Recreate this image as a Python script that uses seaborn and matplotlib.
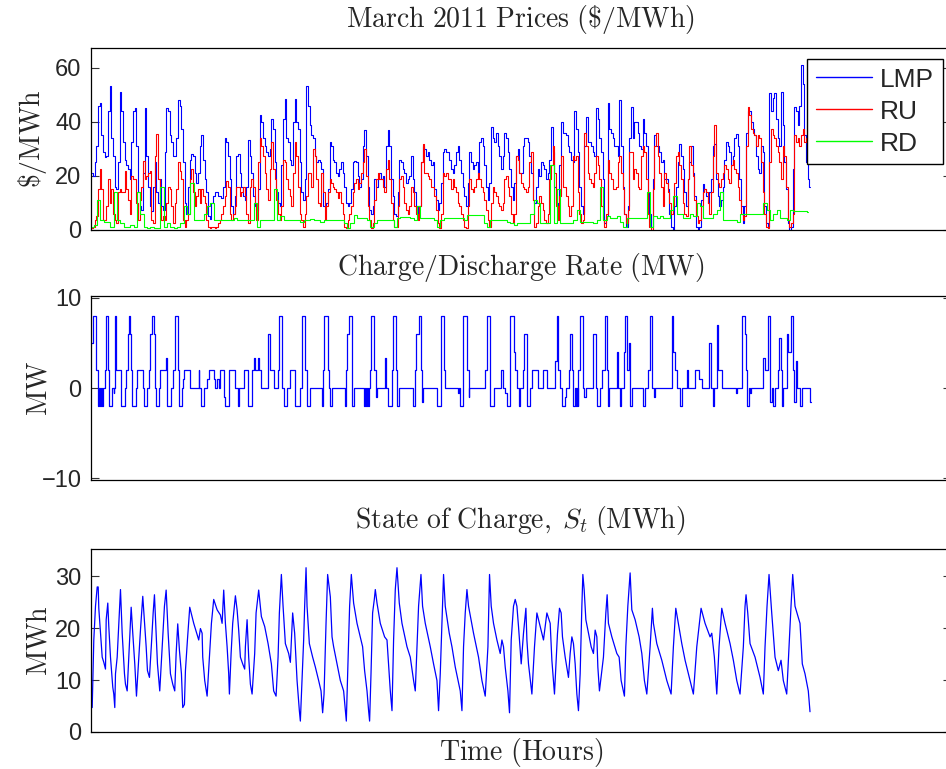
import numpy as np
import matplotlib
matplotlib.use('Agg')
import matplotlib.pyplot as plt
import seaborn as sns

# ---------------- data (hours) ----------------
lmp = [
    21, 20, 25, 31, 46, 47, 35, 29, 27, 27.5,
    44, 53.5, 34, 27.5, 16, 15, 25, 51, 44, 32.5,
    26, 24, 22.5, 19, 32.5, 44, 45, 31, 14, 9,
    7.5, 21, 45, 27.5, 16, 9, 7, 16, 25, 14,
    10, 19, 9, 7.5, 29, 45, 44, 35, 32.5, 27.5,
    27.5, 34, 48, 46, 37.5, 25, 10, 6, 16, 26,
    28, 27.5, 21, 17.5, 21, 31, 35, 26, 19, 14,
    5, 4, 10, 12.5, 14, 14, 12.5, 12.5, 12, 16,
    34, 32.5, 27.5, 19, 9, 6, 12.5, 27.5, 28, 21,
    16, 12.5, 11, 16, 33.5, 27.5, 21, 12.5, 9, 7.5,
    15, 42.5, 40, 34, 31, 29, 27.5, 30, 41, 37.5,
    25, 14, 10, 9, 24, 41, 48.5, 34, 32.5, 26,
    24, 40, 48.5, 40, 37.5, 25, 14, 11, 19, 53.5,
    46, 39, 35, 34, 27.5, 25, 26, 25, 22.5, 9,
    9, 10, 15, 32.5, 31, 26, 25, 21, 20, 22.5,
    25, 21, 16, 10, 9, 10, 15, 25, 25.6, 25,
    20, 16, 19, 31, 37, 27.5, 16, 7.5, 6, 9,
    19, 16, 19, 21, 19, 20, 16, 31, 37, 31,
    19, 12.5, 6, 5, 14, 26, 25, 22.5, 21, 17.5,
    19, 20, 27.5, 19, 14, 9, 6, 9, 25, 31,
    30, 27.5, 29, 26, 24, 25, 15, 11, 7.5, 10,
    17.5, 29, 30, 29, 29, 26, 22.5, 21, 24, 29,
    31, 26, 21, 16, 12.5, 9, 17.5, 29, 25, 22.5,
    24, 25, 21, 32.5, 34, 31, 24, 16, 11, 17.5,
    38, 34, 32.5, 36, 31, 27.5, 22.5, 27.5, 36, 34,
    29, 22.5, 16, 11, 17.5, 27.5, 30, 21, 21, 31,
    34, 34, 32.5, 27.5, 21, 11, 10, 16, 22.5, 20,
    25, 24, 22.5, 19, 21, 26, 38, 29, 16, 10,
    6, 24, 40, 36,
    36, 35, 31, 29, 26, 25, 44, 37.5, 29, 16,
    9, 6, 31, 42, 32.5, 32.5, 31, 29, 27.5, 45,
    41, 34, 29, 19, 2.5, 5, 47, 37.5, 36, 34,
    31, 31, 27.5, 48, 31, 16, 6, 1, 9, 34,
    45.6, 34, 40, 40, 36, 31, 30, 41, 36, 31,
    14, 6, 1, 19, 35, 31, 31, 29, 25, 26,
    19, 19, 15, 6, 1, 0, 9, 16, 25, 32,
    27.5, 22.5, 14, 9, 19, 25, 31, 21, 12.5, 1,
    0, 1, 11, 17, 15, 12.5, 10, 14, 19, 31,
    32, 19, 12.5, 9, 11, 16, 26, 32.5, 31, 29,
    24, 27.5, 34, 35.6, 31, 19, 9, 2.5, 9, 36,
    44, 44, 40, 37.5, 35, 27.5, 22.5, 21, 31, 29,
    9, 2.5, 1, 50.6, 44, 49, 50.6, 41, 34, 31,
    51, 39, 25, 15, 2.5, 0, 1, 22.5, 45.6, 44,
    39, 46, 61, 54, 35, 25, 19, 16,
]
ru = [
    0.6, 1.2, 3.8, 5, 15, 22.5, 15, 3.8, 3.8, 8.8,
    19, 10, 15, 6, 3.8, 2.5, 14, 15, 14, 14,
    22, 15, 11, 6, 20, 19, 19, 10, 3.8, 11,
    16, 25.6, 19, 20, 21, 22, 3.8, 2.5, 27.5, 35.6,
    19, 9, 3.8, 5, 3.8, 10, 16, 15, 9, 2.5,
    10, 15, 25, 22, 19, 3.8, 1.2, 3.8, 6, 19,
    22.5, 14, 9, 12.5, 15, 10, 15, 12.5, 10, 3.8,
    1.2, 0.6, 1.2, 1.2, 0.6, 1.2, 2.5, 3.8, 6, 9,
    12.5, 18, 16, 6, 3.8, 6, 9, 16, 16, 12.5,
    14, 16, 12.5, 6, 2.5, 16, 19, 16, 10, 3.8,
    25, 34, 31, 27.5, 21, 15, 11, 22.5, 32.5, 22.5,
    19, 11, 6, 3.8, 9, 26, 25, 19, 15, 12.5,
    9, 21, 32.5, 27.5, 16, 6, 3.8, 1.2, 6, 12.5,
    21, 21, 16, 30, 27.5, 19, 10, 9, 21, 14,
    3.8, 9, 14, 19, 17.5, 16, 15, 14, 12, 14,
    10, 6, 1.2, 0.6, 3.8, 6, 9, 14, 17.5, 19,
    15, 17.5, 21, 25, 30, 20, 9, 3.8, 0.6, 2.5,
    11, 19, 21, 19, 19, 16, 14, 22.5, 26, 19,
    10, 3.8, 1.2, 1.2, 9, 19, 20, 16, 10, 7.5,
    6, 9, 16, 14, 9, 6, 3.8, 9, 25, 32,
    21, 21, 20, 19, 16, 16, 12.5, 7.5, 2.5, 0.6,
    6, 21, 20, 21, 19, 19, 15, 19, 16, 14,
    10, 9, 6, 3.8, 1.2, 0.6, 9, 19, 15, 14,
    16, 19, 21, 19, 16, 14, 11, 7.5, 3.8, 1.2,
    10, 16, 14, 12.5, 10, 9, 7.5, 10, 19, 20,
    16, 12.5, 6, 2.5, 6, 27.5, 26, 21, 17.5, 16,
    15, 14, 16, 25, 29, 11, 1.2, 2.5, 9, 12.5,
    10, 7.5, 3.8, 2.5, 6, 19, 24, 31, 21, 9,
    3.8, 12.5, 27.5, 16,
    16, 12.5, 9, 5, 9, 27.5, 26, 27.5, 14, 6,
    2.5, 3.8, 36, 31, 21, 19, 17.5, 16, 21, 27.5,
    24, 19, 9, 3.8, 1.2, 6, 26, 21, 19, 15,
    15, 16, 25, 27.5, 21, 15, 6, 2.5, 7.5, 29,
    29, 19, 22.5, 21, 16, 15, 27.5, 31, 29, 19,
    6, 1.2, 0, 15, 31, 36, 27.5, 21, 16, 9,
    21, 17.5, 14, 10, 6, 9, 17.5, 27.5, 29, 24,
    19, 10, 6, 5, 19, 31, 24, 20, 11, 5,
    2.5, 3.8, 9, 14, 15, 14, 10, 6, 14, 27.5,
    39, 21, 17.5, 16, 19, 21, 24, 22.5, 19, 17.5,
    24, 26, 22.5, 21, 16, 11, 6, 3.8, 5, 31,
    45.6, 42.5, 37.5, 36, 35, 31, 35, 34, 25, 14,
    6, 1.2, 0.6, 25, 37.5, 35, 34, 31, 29, 25,
    19, 31, 27.5, 16, 3.8, 1.2, 2.5, 6, 35, 32.5,
    34, 31, 35, 37.5, 32.5, 34, 37.5, 37.5,
]
rd = [
    1.2, 1.9, 11, 3.8, 3.1, 3.1, 1.2, 14, 3.8, 2.5,
    1.2, 1.2, 1.9, 1.2, 14, 6, 1.2, 0.6, 1.2, 0.6,
    0.6, 16, 1.2, 2.5, 1.2, 0.6, 1.2, 2.5, 9, 6,
    17.5, 3.8, 3.8, 3.8, 6, 9, 10, 3.8, 3.8, 3.8,
    3.8, 3.8, 3.8, 4.4, 3.8, 3.8, 3.8, 3.8, 3.8, 10,
    1.2, 3.8, 3.8, 3.8, 3.8, 15, 3.8, 5, 3.8, 3.8,
    3.8, 3.8, 3.8, 3.1, 3.8, 3.8, 4, 3.8, 3.8, 3.1,
    3.8, 3.8, 3.8, 3.8, 3.8, 3.8, 2.5, 0.6, 2.5, 5.6,
    4.4, 4.4, 4.4, 3.8, 1.2, 2.5, 3.8, 3.8, 3.8, 3.8,
    3.8, 1.2, 4.4, 4.8, 4.8, 4.8, 4.4, 3.8, 9, 4.4,
    4.4, 4.4, 4.4, 3.8, 1.2, 3.8, 4.4, 4.4, 4.4, 4.4,
    4.4, 4.4, 3.8, 5.6, 5.6, 5.6, 5.6, 5.6, 2.5, 1.2,
    3.8, 3.8, 3.8, 3.8, 3.8, 3.1, 2.5, 1.9, 2.5, 2.5,
    2.5, 2.5, 6, 11, 10, 2.5, 2.5, 2.5, 24, 2.5,
    15, 2.5,
    2.5, 2.5, 2.5, 3.8, 7.5, 3.1, 3.1, 3.1, 3.1, 2.5,
    3.8, 16, 3.8, 5, 4.4, 4.4, 5, 3.1, 1.2, 4.4,
    4.4, 4.4, 4.4, 4.4, 4.4, 14, 1.2, 5, 4.4, 5,
    4.4, 4.4, 7.5, 12.5, 6, 6, 4.4, 4.4, 6, 5,
    10, 9, 4.4, 4.4, 4.4, 6, 7.5, 14, 3.8, 3.8,
    3.8, 3.8, 3.1, 6, 6, 6, 6, 6, 6, 6,
    10, 7.5, 3.8, 6, 7.5, 4.4, 4.4, 3.8, 7.5, 7,
    7, 7, 7, 6.5,
]

rate_t = [
    0, 2.3, 6, 7.7, 9, 9.7, 10.7, 11.3, 12.3, 15,
    15.7, 17.7, 18.3, 21.7, 23.3, 24, 24.3, 24.7, 26, 30.3,
    34.3, 35.7, 37.3, 38.3, 40, 41, 41.7, 45.7, 46.7, 52.3,
    53.3, 56.7, 58.3, 59.3, 61.7, 63.3, 65, 65.5, 69, 70,
    76, 76.7, 81, 82.7, 85, 87.3, 88.3, 91.7, 92.3, 94,
    100, 108.3, 109, 111, 113.3, 116.7, 118.3, 123.3, 124.3, 126.7,
    128.3, 130, 133.3, 134.3, 138.3, 145, 147.7, 149, 153.3, 157.7,
    161.7, 163.3, 165, 167.7, 168.3, 171, 177.7, 180, 183.3, 187.7,
    188.3, 189, 191.7, 193.3, 196.7, 200, 205, 210, 211.7, 215,
    216.7, 220, 231.7, 232.3, 233.3, 237.7, 238.3, 240, 241.7, 254.3,
    255.7, 257, 258.3, 261.7, 263.3, 273.3, 274.7, 275.3, 276.7, 277.3,
    278.3, 279.3, 281, 284, 285.7, 286.7, 295, 296, 297.7, 301.7,
    302.7, 306, 306.7, 309, 322.7, 324.3, 326, 328.3, 331, 331.7,
    332.7, 346.7, 351, 353.3, 354.3, 367.7, 368.3, 370, 372.7, 376.7,
    378.3, 379, 395, 396.7, 400, 403.3, 411, 412.3, 415, 416.7,
    420, 423.3, 425, 426.7, 428.3, 429.3, 433.3, 434, 436.7, 440,
    442.3, 448.3, 453.3, 456.7, 465, 466.7, 468.3, 470, 471.7, 475,
    475.7, 479, 480.3, 482.3, 483.3, 485, 485.7, 487, 487.5, 488.3,
    490, 493.3, 494.3, 495.7, 503.3, 505.7, 506.7, 510, 512.3, 515,
    516.7, 518.3, 519, 526.7, 528.3, 530, 531, 534.3, 535, 536.7,
    539, 540.3, 541.7, 553.3, 555, 557.7, 560, 562.3, 564.3, 565,
    581.7, 583.3, 585, 586.7, 590, 591.7, 596.7, 597.7, 605, 609.3,
    611.7, 619.3, 620.7, 622.7, 624.3, 627.3, 628.3, 631.7, 645.7, 646.7,
    651.7, 652.3, 655, 655.7, 656.7, 659, 660, 660.7, 673.3, 675,
    678.3, 679.7, 680, 681.7, 683.3, 685, 688.3, 689.3, 691, 692.3,
    693.3, 696.7, 698.3, 701, 702.7, 704, 706, 706.7, 710, 712.3,
    720, 721,
]
rate_v = [
    5, 8, 2, -2, 0, -2, 0, -2, 0, 2,
    8, 2, -2, 0, -0.5, 0, 2, 8, 2, -2,
    0, 2, 6, 8, 6, 2, -2, 0, 2, 0,
    -2, 0, 2, 6, 8, 6, 0, -2, 0, 2,
    3.3, -2, 0, 2, 8, 2, -2, 0, 1, 2,
    0, 2, 0, -2, 0, 1, 2, 1, 0, 1,
    0, 2, -1, -2, 2, 0, -2, 0, 2, -2,
    2, 3.3, 2, 3.3, 2, 0, 6, 2, 0, 2,
    4, 8, 0, -2, 0, 2, -2, 0, 8, 2,
    -2, 0, -2, 2, 8, 2, 0, -2, 0, -2,
    2, 6, 8, -2, 0, -2, 0, -2, 0, -2,
    0, 2, 8, 2, -1, 0, 3.3, 0, -2, 2,
    8, 2, -2, 0, -2, 2, 6, 8, 2, -1.5,
    0, -2, 8, 2, 0, -0.5, 0, -2, 8, 2,
    -1, 0, 2, 8, -2, 0, 2, 0, -0.5, -2,
    8, 4, 2, 0, -2, 0, 2, 6, -2, 0,
    2, 0, 2, 0, 3, 8, 2, 0, -2, -1,
    0, 2, 6, 2, -2, 0, -2, 0, -2, 2,
    8, 0, -1, 0, 6, 0, -2, 0, 2, 8,
    2, -2, 0, 4, 0, -2, 0, 4, 8, 2,
    5, -2, 0, -2, 0, 2, 8, 0, -1, 0,
    8, 4, 2, 0, -2, 0, 2, 0, 2, 1,
    0, 5, 0, -2, 0, 7, 2, 0, -0.5, 0,
    6, 8, 6, 2, -2, 0, -0.5, 0, 3.3, 2,
    8, 0, -1.5, 0, -2, 0, 2, 5.5, 2, -2,
    0, 6, 4, 8, 2, -1.5, 3, 0, -2, 0,
    -1.5, -1.5,
]

soc_t = [
    1.7, 3.3, 5, 6.7, 7.7, 8.3, 10, 11.7, 13.3, 15,
    15.7, 17.3, 18.3, 20, 22.3, 23.3, 24.3, 25, 26.7, 30,
    31.7, 34, 35, 36.7, 38.3, 40.7, 42.3, 44.3, 46, 48.3,
    50, 52.3, 54.3, 55.7, 57, 59, 61, 62.7, 64, 65.7,
    67, 69.3, 71.7, 74, 75.7, 77.7, 80, 82.3, 84.3, 85.7,
    87.3, 89, 91, 92.3, 94, 95, 97, 99.3, 103.3, 108.3,
    110, 111.7, 112.3, 114.3, 116.7, 119, 121, 123.3, 125, 126.7,
    130, 131.7, 133.3, 135, 136.7, 138.3, 139, 140.7, 142.3, 145,
    146.7, 148.3, 150, 152.3, 154.3, 155, 156.7, 158.3, 160, 161.7,
    164.3, 165.7, 168.3, 171, 174.3, 177.7, 181, 183.3, 185.7, 187.7,
    189, 191, 192.7, 195, 198.3, 200, 202.3, 204.3, 206.7, 209,
    210, 211.7, 213.3, 214.3, 215.7, 216.7, 219, 222.3, 225, 228.3,
    230.7, 232.3, 233.7, 235.7, 237.3, 240, 241.7, 243.3, 246.7, 250,
    253.3, 255, 256, 257.3, 258.3, 259.3, 261, 263.3, 266.7, 270,
    272.3, 274.3, 276.7, 278.3, 279.3, 280.7, 282.3, 284, 285, 286.7,
    290, 294.3, 296.7, 298.3, 300, 301.7, 303.3, 305, 306.7, 309,
    311.7, 316.7, 320, 323.3, 325, 326.7, 328.3, 330.7, 332.3, 335,
    340, 343.3, 346.7, 348.3, 350, 352.3, 353.3, 355, 359, 361.7,
    365, 370, 371.7, 373.3, 375, 376.7, 378.3, 383.3, 388.3, 391.7,
    395, 397.7, 399.3, 401, 403.3, 406.7, 410, 411.7, 413.3, 415,
    417.7, 419.3, 421, 423.3, 425, 426.7, 428.3, 431, 433.3, 435.7,
    436.7, 438.3, 441.7, 444.3, 446.7, 450, 453.3, 456.7, 460, 461.7,
    464.3, 467.3, 469.3, 471, 472.3, 475, 478.3, 480, 481.7, 483.3,
    485, 486.7, 488.3, 490, 491.7, 492.7, 494, 495.7, 498.3, 501,
    503.3, 505, 506.7, 507.7, 509.3, 513.3, 515.7, 517, 518.3, 521.7,
    526.7, 529, 531, 534.3, 535.7, 537.7, 540, 541.7, 545, 549,
    551.7, 554.3, 556.7, 560, 562.3, 563.3, 566.7, 571.7, 576.7, 581,
    583.3, 585.7, 588.3, 591.7, 595, 600, 603.3, 606.7, 611, 615,
    620, 621.7, 624.3, 626.7, 629, 631.7, 635, 640, 643.3, 646.7,
    650, 653.3, 655, 656, 657.7, 660, 665, 670, 673.3, 675,
    677, 679, 681.7, 685, 688.3, 691, 693.3, 696.7, 699, 701,
    702.7, 705, 710, 712.3, 715, 718.3, 720,
]
soc_v = [
    4.7, 17.7, 24.2, 27.9, 27.9, 23.8, 19, 14.4, 13.4, 12.1,
    21.6, 24.8, 20.3, 14.4, 8.6, 7.3, 4.7, 11.2, 14.4, 27.4,
    19, 11.2, 9.2, 7.9, 14.4, 24, 19, 13.1, 6.9, 14.4,
    19.6, 26.1, 20.3, 16.4, 11.8, 10.5, 17, 22.9, 26.4, 19,
    13.1, 7.9, 16.4, 24.2, 27.3, 19, 11.2, 9.2, 7.9, 15.1,
    20.8, 15.7, 11.2, 4.7, 5.3, 11.8, 17.7, 24, 20.9, 17.7,
    19.9, 19, 14.4, 9.9, 6.9, 14.4, 20.9, 25.5, 24.5, 23.5,
    22.5, 20.9, 27.3, 20.9, 16.4, 11.2, 7.3, 15.1, 20.9, 26.2,
    23.5, 19.6, 14.4, 13.1, 12.1, 16.4, 21.6, 14.4, 9.2, 7.3,
    15.1, 22.9, 27.3, 22.2, 20.3, 17, 13.1, 7.9, 6.9, 14.4,
    22.9, 30.3, 24.2, 17, 15.1, 13.4, 22.9, 19, 9.9, 4.1,
    2.1, 9.9, 17.7, 24.2, 31.6, 24.2, 17, 14.4, 12.5, 9.9,
    7.9, 3.7, 7.3, 20.9, 30.3, 26, 18.3, 16.4, 13.1, 9.9,
    7.9, 4.1, 2.1, 11.2, 17.7, 24.2, 30.3, 24.8, 20.9, 18.3,
    16.4, 11.8, 7.9, 4.1, 2.1, 11.2, 22.9, 25.5, 27.4, 24.8,
    20.9, 18.3, 17.7, 13.1, 7.9, 4.1, 17.7, 27.4, 31.6, 24.8,
    20.9, 16.4, 14.4, 9.9, 7.9, 16.4, 24.2, 30.3, 24.2, 20.9,
    16.4, 13.1, 9.9, 4.1, 11.2, 24.2, 30.3, 24.2, 19, 16.4,
    12.5, 7.9, 4.1, 16.4, 22.9, 27.4, 24.2, 19, 14.4, 9.9,
    6.9, 16.4, 30.3, 24.2, 20.9, 17.7, 15.1, 17.7, 16.4, 12.5,
    7.9, 3.7, 17.7, 24.2, 25.5, 24.2, 20.3, 13.1, 19, 23.8,
    17.7, 13.1, 7.3, 16.4, 22.9, 20.3, 17.7, 22.9, 20.9, 13.8,
    7.3, 18.9, 23.8, 22.9, 18.3, 14.4, 10.5, 15.1, 18.3, 17,
    13.1, 7.3, 4.1, 11.2, 24.2, 30.3, 27.4, 21.6, 19, 16.4,
    15.1, 19.6, 18.3, 12.5, 7.9, 14.4, 22.9, 26.4, 20.9, 18.3,
    15.1, 14.4, 9.9, 6.9, 16.4, 24.2, 30.6, 23.5, 21.6, 18.3,
    15.1, 9.9, 7.3, 16.4, 23.8, 20.9, 17, 13.8, 9.9, 7.3,
    16.4, 23.8, 20.9, 17, 13.8, 9.9, 7.3, 16.4, 23.8, 20.9,
    18.3, 19, 14.4, 7.3, 16.4, 23.8, 20.9, 17, 13.8, 9.9,
    7.3, 16.4, 24.2, 26.4, 22.9, 17, 14.4, 10.5, 7.3, 16.4,
    24.2, 30.3, 22.9, 14.4, 11.8, 13.8, 9.9, 7.3, 16.4, 24.2,
    30.3, 24.2, 20.9, 13.1, 11.2, 7.9, 3.9,
]

# sample times of the price series (hours)
price_t = np.arange(1, len(lmp) + 1) * 5.0 / 3.0
rd_t = 5.0 / 3.0 + np.arange(len(rd)) * 10.0 / 3.0

# ---------------- style ----------------
sns.set_style('white')
plt.rcParams['font.family'] = ['Liberation Sans', 'DejaVu Sans']
plt.rcParams['mathtext.fontset'] = 'cm'
plt.rcParams['axes.unicode_minus'] = True

W, H = 946, 769
fig = plt.figure(figsize=(W / 100, H / 100), dpi=100)
x0, x1 = 90.5, 951.0


def box(top, bottom):
    return [x0 / W, 1 - bottom / H, (x1 - x0) / W, (bottom - top) / H]


ax1 = fig.add_axes(box(48, 230))
ax2 = fig.add_axes(box(296, 480))
ax3 = fig.add_axes(box(549, 732))

xmax = 720 * (x1 - x0) / (810 - x0)
TFS = 20

sns.lineplot(x=price_t, y=lmp, ax=ax1, color='#0000ff', linewidth=0.8,
             estimator=None, sort=False, label='LMP', drawstyle='steps-mid')
sns.lineplot(x=price_t, y=ru, ax=ax1, color='#ff0000', linewidth=0.8,
             estimator=None, sort=False, label='RU', drawstyle='steps-mid')
sns.lineplot(x=rd_t, y=rd, ax=ax1, color='#00ff00', linewidth=0.8,
             estimator=None, sort=False, label='RD', drawstyle='steps-mid')
sns.lineplot(x=rate_t, y=rate_v, ax=ax2, color='#0000ff', linewidth=0.9,
             estimator=None, sort=False, drawstyle='steps-post')
sns.lineplot(x=soc_t, y=soc_v, ax=ax3, color='#0000ff', linewidth=0.9,
             estimator=None, sort=False)

ax1.set_ylim(0, 67.4)
ax1.set_yticks([0, 20, 40, 60])
ax2.set_ylim(-10.22, 10.22)
ax2.set_yticks([-10, 0, 10])
ax3.set_ylim(0, 35.2)
ax3.set_yticks([0, 10, 20, 30])

ax1.set_title(r'$\mathrm{March\ 2011\ Prices\ (\$/MWh)}$', fontsize=TFS, pad=15)
ax2.set_title(r'$\mathrm{Charge/Discharge\ Rate\ (MW)}$', fontsize=TFS, pad=15)
ax3.set_title(r'$\mathrm{State\ of\ Charge,}\;S_t\;\mathrm{(MWh)}$', fontsize=TFS, pad=15)
ax1.set_ylabel(r'$\mathrm{\$/MWh}$', fontsize=TFS)
ax2.set_ylabel(r'$\mathrm{MW}$', fontsize=TFS)
ax3.set_ylabel(r'$\mathrm{MWh}$', fontsize=TFS)
ax3.set_xlabel(r'$\mathrm{Time\ (Hours)}$', fontsize=TFS, labelpad=3)

for ax in (ax1, ax2, ax3):
    ax.set_xlim(0, xmax)
    ax.set_xticks([])
    ax.tick_params(axis='y', which='both', direction='in', length=6, width=0.8,
                   color='#333333', left=True, right=True, labelsize=17, pad=6.5)
    for s in ax.spines.values():
        s.set_visible(True)
        s.set_color('black')
        s.set_linewidth(0.9)
    ax.grid(False)

ax1.yaxis.set_label_coords(-0.048, 0.5)
ax2.yaxis.set_label_coords(-0.044, 0.5)
ax3.yaxis.set_label_coords(-0.044, 0.5)

handles = ax1.get_lines()[:3]
leg = ax1.legend(handles, ['LMP', 'RU', 'RD'], loc='upper right',
                 bbox_to_anchor=(943 / W, 1 - 59 / H), bbox_transform=fig.transFigure,
                 borderaxespad=0, fontsize=19, frameon=True, fancybox=False,
                 edgecolor='black', framealpha=1, handlelength=2.15,
                 handletextpad=0.3, labelspacing=0.3, borderpad=0.33)
leg.get_frame().set_linewidth(1.0)
for ln in leg.get_lines():
    ln.set_linewidth(1.0)

fig.savefig('out.png', dpi=100)
